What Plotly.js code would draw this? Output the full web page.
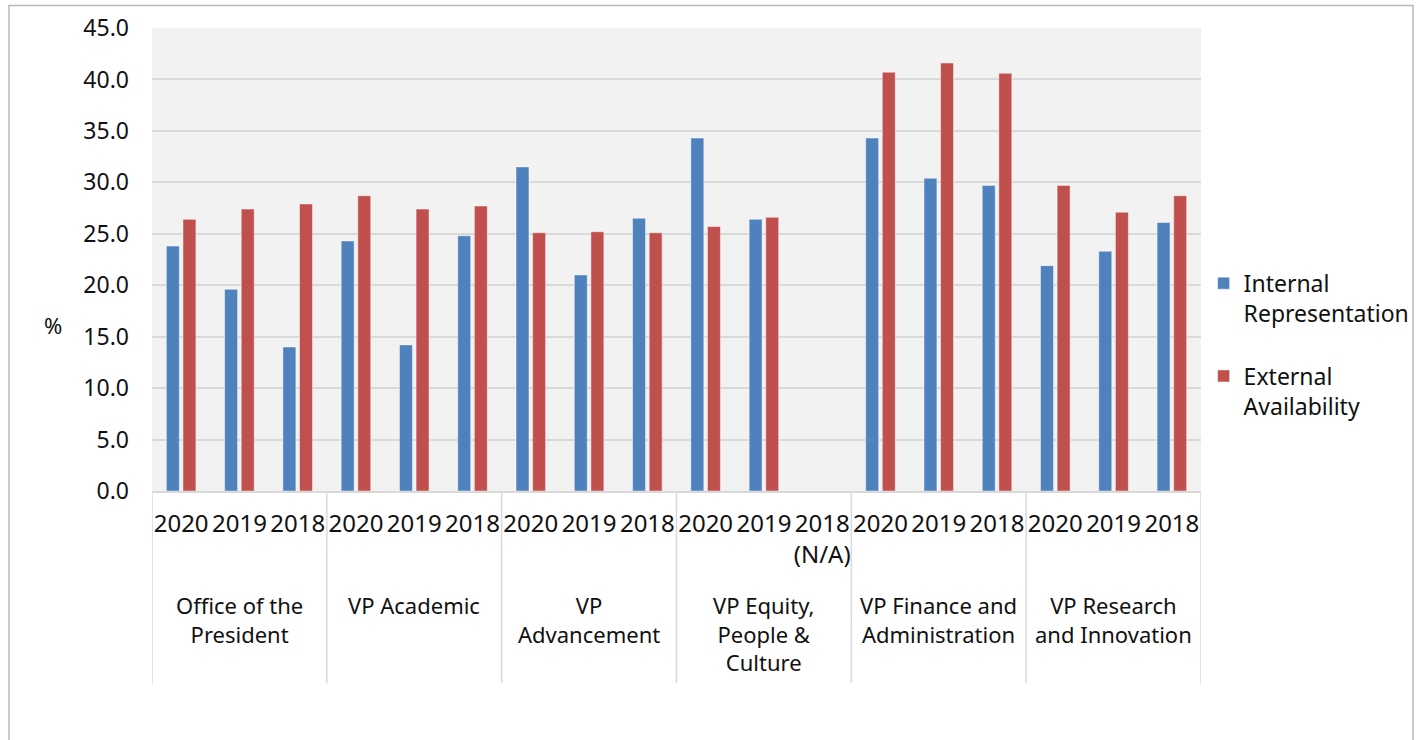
<!DOCTYPE html>
<html>
<head>
<meta charset="utf-8">
<script src="https://cdn.plot.ly/plotly-3.0.1.min.js"></script>
<style>
  html, body { margin: 0; padding: 0; background: white; }
  #chart { width: 1424px; height: 740px; }
</style>
</head>
<body>
<div id="chart"></div>
<script>
// Departments (outer category level) and years (inner level)
const departments = [
    'Office of the<br>President',
    'VP Academic',
    'VP<br>Advancement',
    'VP Equity,<br>People &<br>Culture',
    'VP Finance and<br>Administration',
    'VP Research<br>and Innovation'
];
const years = ['2020', '2019', '2018'];

// Year labels per bar slot (Equity 2018 has no data)
const yearLabels = [
    '2020', '2019', '2018',
    '2020', '2019', '2018',
    '2020', '2019', '2018',
    '2020', '2019', '2018<br>(N/A)',
    '2020', '2019', '2018',
    '2020', '2019', '2018'
];

const internalRep = [
    23.8, 19.6, 14.0,
    24.3, 14.2, 24.8,
    31.5, 21.0, 26.5,
    34.3, 26.4, null,
    34.3, 30.4, 29.7,
    21.9, 23.3, 26.1
];
const externalAvail = [
    26.4, 27.4, 27.9,
    28.7, 27.4, 27.7,
    25.1, 25.2, 25.1,
    25.7, 26.6, null,
    40.7, 41.6, 40.6,
    29.7, 27.1, 28.7
];

const FONT = 'Noto Sans, Open Sans, sans-serif';
const GRID = '#d9d9d9';

const xIdx = yearLabels.map((_, i) => i);

const traces = [
    {
        type: 'bar',
        name: 'Internal<br>Representation',
        legendgroup: 'internal',
        x: xIdx,
        y: internalRep,
        marker: {
            color: '#4F81BD',
            line: { color: 'rgba(255,255,255,0.45)', width: 1 }
        }
    },
    {
        type: 'bar',
        name: 'External<br>Availability',
        legendgroup: 'external',
        x: xIdx,
        y: externalAvail,
        marker: {
            color: '#C0504D',
            line: { color: 'rgba(255,255,255,0.45)', width: 1 }
        }
    }
];

// Divider lines between departments, below the axis
const nYears = years.length;
const shapes = [];
for (let g = 0; g <= departments.length; g++) {
    shapes.push({
        type: 'line',
        xref: 'x', yref: 'paper',
        x0: g * nYears - 0.5, x1: g * nYears - 0.5,
        y0: 0, y1: -0.415,
        line: { color: GRID, width: 1.5 }
    });
}
// outer frame of the chart
shapes.push({
    type: 'rect',
    xref: 'paper', yref: 'paper',
    x0: -0.1363, x1: 1.2021,
    y0: -0.6, y1: 1.0486,
    line: { color: '#b8b8b8', width: 1.5 }
});

const annotations = departments.map((d, g) => ({
    xref: 'x', yref: 'paper',
    x: g * nYears + (nYears - 1) / 2,
    y: -0.21,
    yanchor: 'top',
    xanchor: 'center',
    text: d,
    showarrow: false,
    font: { family: FONT, size: 22, color: '#111' }
}));
annotations.push({
    xref: 'paper', yref: 'paper',
    x: -0.105, y: 0.359,
    text: '%',
    showarrow: false,
    font: { family: FONT, size: 22, color: '#111' }
});

const layout = {
    width: 1424,
    height: 740,
    margin: { l: 152, r: 223, t: 28, b: 249, autoexpand: false },
    paper_bgcolor: 'white',
    plot_bgcolor: '#f2f2f2',
    font: { family: FONT, size: 22, color: '#111' },
    barmode: 'group',
    bargap: 0.43,
    bargroupgap: 0.22,
    showlegend: true,
    legend: {
        x: 1.0025,
        xanchor: 'left',
        y: 0.316,
        yanchor: 'middle',
        traceorder: 'grouped',
        tracegroupgap: 30,
        valign: 'top',
        font: { family: FONT, size: 23, color: '#111' },
        bgcolor: 'rgba(0,0,0,0)'
    },
    xaxis: {
        range: [-0.5, yearLabels.length - 0.5],
        tickmode: 'array',
        tickvals: xIdx,
        ticktext: yearLabels,
        showgrid: false,
        zeroline: false,
        showline: true,
        linecolor: GRID,
        linewidth: 1.5,
        ticks: '',
        ticklabelstandoff: 10,
        tickfont: { family: FONT, size: 24, color: '#111' }
    },
    yaxis: {
        range: [0, 45],
        dtick: 5,
        tickformat: '.1f',
        showgrid: true,
        gridcolor: GRID,
        gridwidth: 1.5,
        zeroline: false,
        showline: false,
        ticks: '',
        ticklabelstandoff: 22,
        tickfont: { family: FONT, size: 23, color: '#111' }
    },
    shapes: shapes,
    annotations: annotations
};

const config = {
    responsive: false,
    displayModeBar: false
};

Plotly.newPlot('chart', traces, layout, config);
</script>
</body>
</html>
